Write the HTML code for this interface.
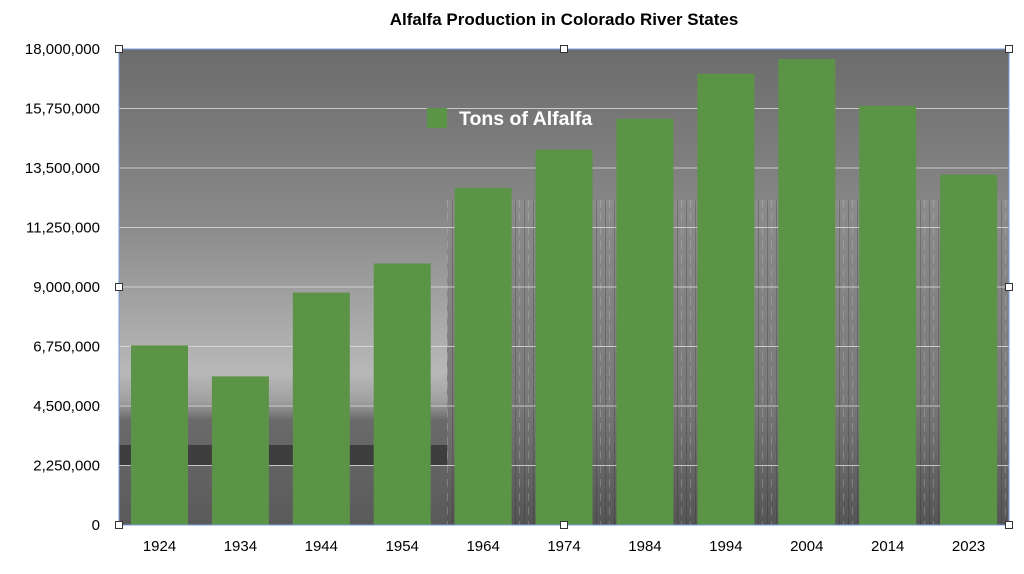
<!DOCTYPE html>
<html><head><meta charset="utf-8"><style>
body{margin:0;background:#fff;width:1024px;height:569px;overflow:hidden;font-family:"Liberation Sans",sans-serif}
</style></head><body>
<svg id="c" width="1024" height="569">
<defs>
<linearGradient id="sky" x1="0" y1="0" x2="0" y2="1">
<stop offset="0" stop-color="#6c6c6c"/><stop offset="0.35" stop-color="#888"/><stop offset="0.68" stop-color="#b8b8b8"/><stop offset="0.74" stop-color="#a0a0a0"/><stop offset="0.78" stop-color="#6a6a6a"/><stop offset="1" stop-color="#5a5a5a"/>
</linearGradient>
<linearGradient id="hay" x1="0" y1="0" x2="0" y2="1">
<stop offset="0" stop-color="#8c8c8c"/><stop offset="0.6" stop-color="#7a7a7a"/><stop offset="1" stop-color="#555"/>
</linearGradient>
<pattern id="tex" width="9" height="14" patternUnits="userSpaceOnUse"><rect width="9" height="14" fill="#000" opacity="0"/><rect x="2" y="0" width="1" height="14" fill="#222" opacity="0.25"/><rect x="6" y="3" width="1" height="8" fill="#ddd" opacity="0.25"/></pattern>
</defs>
<text x="564" y="25" text-anchor="middle" font-size="17" font-weight="bold">Alfalfa Production in Colorado River States</text>
<g id="plot"></g>
</svg>
<script>
const categories=["1924","1934","1944","1954","1964","1974","1984","1994","2004","2014","2023"];
const tons=[6790000,5620000,8790000,9890000,12750000,14190000,15360000,17060000,17620000,15850000,13250000];
const ticks=[0,2250000,4500000,6750000,9000000,11250000,13500000,15750000,18000000];
const tickLabels=["0","2,250,000","4,500,000","6,750,000","9,000,000","11,250,000","13,500,000","15,750,000","18,000,000"];
const L=119,R=1009,T=49,B=525,MAX=18000000;
const y=v=>B-(v/MAX)*(B-T);
const step=(R-L)/categories.length;
const x=i=>L+step*i+12;
const bw=57;
const g=document.getElementById('plot');
const NS="http://www.w3.org/2000/svg";
function mk(t,a){const e=document.createElementNS(NS,t);for(const k in a)e.setAttribute(k,a[k]);g.appendChild(e);return e;}
let e=mk('rect',{x:L,y:T,width:R-L,height:B-T,fill:'url(#sky)'});


e=mk('rect',{x:L,y:445,width:330,height:20,fill:'#3e3e3e'});


e=mk('rect',{x:447,y:200,width:R-447,height:B-200,fill:'url(#hay)'});


e=mk('rect',{x:447,y:200,width:R-447,height:B-200,fill:'url(#tex)'});


ticks.forEach((t,i)=>{
 if(i>0&&i<ticks.length-1){const l=mk('line',{x1:L,x2:R,y1:y(t),y2:y(t),stroke:'#ddd','stroke-width':1,opacity:0.8});
 
 }
 const tx=mk('text',{x:100,y:y(t)+5,'text-anchor':'end','font-size':15});tx.textContent=tickLabels[i];
 
 
});
categories.forEach((c,i)=>{
 const r=mk('rect',{x:x(i),y:y(tons[i]),width:bw,height:B-y(tons[i]),fill:'#5b9447'});
 
 
 const tx=mk('text',{x:x(i)+bw/2,y:551,'text-anchor':'middle','font-size':15});tx.textContent=c;
 
 
});
e=mk('rect',{x:L,y:T,width:R-L,height:B-T,fill:'none',stroke:'#7a9de0','stroke-width':1});


[[L,T],[564,T],[R,T],[L,287],[R,287],[L,B],[564,B],[R,B]].forEach(p=>{
 const h=mk('rect',{x:p[0]-3.5,y:p[1]-3.5,width:7,height:7,fill:'#fff',stroke:'#333','stroke-width':1});
 
 
});
e=mk('rect',{x:427,y:108,width:20,height:20,fill:'#5b9447'});


e=mk('text',{x:459,y:125,'font-size':19.5,'font-weight':'bold',fill:'#fff'});e.textContent='Tons of Alfalfa';


</script>
</body></html>
